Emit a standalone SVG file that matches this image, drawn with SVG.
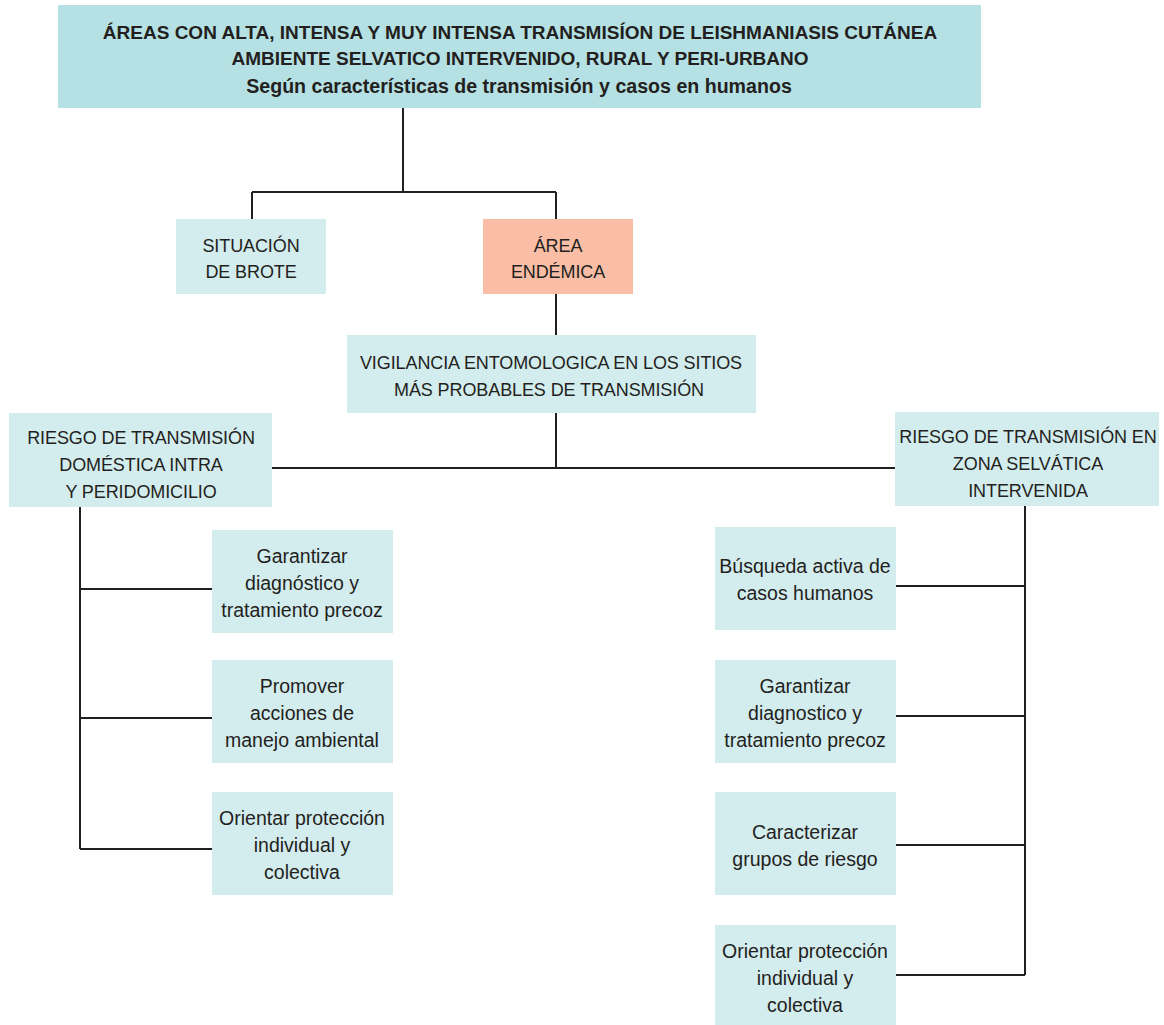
<svg xmlns="http://www.w3.org/2000/svg" width="1164" height="1025" viewBox="0 0 1164 1025">
  <style>
    .title { fill: #b5e1e4; }
    .box { fill: #d3ecee; }
    .hot { fill: #f9bea5; }
    .link { stroke: #231f20; stroke-width: 2; fill: none; }
    text { fill: #231f20; text-anchor: middle; }
    .tb { font-family: "Liberation Sans Narrow", "Arial Narrow", "Liberation Sans", sans-serif; font-weight: bold; font-size: 19px; }
    .ts { font-family: "Liberation Sans", Arial, sans-serif; font-weight: bold; font-size: 19.6px; }
    .up { font-family: "Liberation Sans Narrow", "Arial Narrow", "Liberation Sans", sans-serif; font-size: 18px; letter-spacing: -0.1px; }
    .lo { font-family: "Liberation Sans", Arial, sans-serif; font-size: 19.5px; }
  </style>

  <rect width="1164" height="1025" fill="#ffffff"/>

  <!-- connectors -->
  <g id="connectors">
    <path class="link" d="M403,108 V192 M252,192 H556 M252,192 V219 M556,192 V219"/>
    <path class="link" d="M556,293 V335"/>
    <path class="link" d="M556,413 V468 M272,468 H895"/>
    <path class="link" d="M80,507 V849 M80,589 H212 M80,718 H212 M80,849 H212"/>
    <path class="link" d="M1025,506 V975 M896,586 H1025 M896,716 H1025 M896,845 H1025 M896,975 H1025"/>
  </g>

  <g id="n-title">
    <rect class="title" x="58" y="5" width="923" height="103"/>
    <text class="tb" x="520" y="39">ÁREAS CON ALTA, INTENSA Y MUY INTENSA TRANSMISÍON DE LEISHMANIASIS CUTÁNEA</text>
    <text class="tb" x="520" y="65">AMBIENTE SELVATICO INTERVENIDO, RURAL Y PERI-URBANO</text>
    <text class="ts" x="519" y="93">Según características de transmisión y casos en humanos</text>
  </g>

  <g id="n-brote">
    <rect class="box" x="176" y="219" width="150" height="75"/>
    <text class="up" x="251" y="252">SITUACIÓN</text>
    <text class="up" x="251" y="278">DE BROTE</text>
  </g>

  <g id="n-endemica">
    <rect class="hot" x="483" y="219" width="150" height="75"/>
    <text class="up" x="558" y="252">ÁREA</text>
    <text class="up" x="558" y="278">ENDÉMICA</text>
  </g>

  <g id="n-vigilancia">
    <rect class="box" x="347" y="335" width="409" height="78"/>
    <text class="up" x="551" y="369">VIGILANCIA ENTOMOLOGICA EN LOS SITIOS</text>
    <text class="up" x="549" y="396">MÁS PROBABLES DE TRANSMISIÓN</text>
  </g>

  <g id="n-domestica">
    <rect class="box" x="9" y="413" width="263" height="94"/>
    <text class="up" x="141" y="444">RIESGO DE TRANSMISIÓN</text>
    <text class="up" x="141" y="471">DOMÉSTICA INTRA</text>
    <text class="up" x="141" y="498">Y PERIDOMICILIO</text>
  </g>

  <g id="n-selvatica">
    <rect class="box" x="895" y="412" width="264" height="94"/>
    <text class="up" x="1028" y="443">RIESGO DE TRANSMISIÓN EN</text>
    <text class="up" x="1028" y="470">ZONA SELVÁTICA</text>
    <text class="up" x="1028" y="497">INTERVENIDA</text>
  </g>

  <!-- left actions -->
  <g id="n-l-diagnostico">
    <rect class="box" x="212" y="530" width="181" height="103"/>
    <text class="lo" x="302" y="563">Garantizar</text>
    <text class="lo" x="302" y="590">diagnóstico y</text>
    <text class="lo" x="302" y="617">tratamiento precoz</text>
  </g>

  <g id="n-l-ambiental">
    <rect class="box" x="212" y="660" width="181" height="103"/>
    <text class="lo" x="302" y="693">Promover</text>
    <text class="lo" x="302" y="720">acciones de</text>
    <text class="lo" x="302" y="747">manejo ambiental</text>
  </g>

  <g id="n-l-proteccion">
    <rect class="box" x="212" y="792" width="181" height="103"/>
    <text class="lo" x="302" y="825">Orientar protección</text>
    <text class="lo" x="302" y="852">individual y</text>
    <text class="lo" x="302" y="879">colectiva</text>
  </g>

  <!-- right actions -->
  <g id="n-r-busqueda">
    <rect class="box" x="715" y="527" width="181" height="103"/>
    <text class="lo" x="805" y="573">Búsqueda activa de</text>
    <text class="lo" x="805" y="600">casos humanos</text>
  </g>

  <g id="n-r-diagnostico">
    <rect class="box" x="715" y="660" width="181" height="103"/>
    <text class="lo" x="805" y="693">Garantizar</text>
    <text class="lo" x="805" y="720">diagnostico y</text>
    <text class="lo" x="805" y="747">tratamiento precoz</text>
  </g>

  <g id="n-r-grupos">
    <rect class="box" x="715" y="792" width="181" height="103"/>
    <text class="lo" x="805" y="839">Caracterizar</text>
    <text class="lo" x="805" y="866">grupos de riesgo</text>
  </g>

  <g id="n-r-proteccion">
    <rect class="box" x="715" y="925" width="181" height="100"/>
    <text class="lo" x="805" y="958">Orientar protección</text>
    <text class="lo" x="805" y="985">individual y</text>
    <text class="lo" x="805" y="1012">colectiva</text>
  </g>
</svg>
